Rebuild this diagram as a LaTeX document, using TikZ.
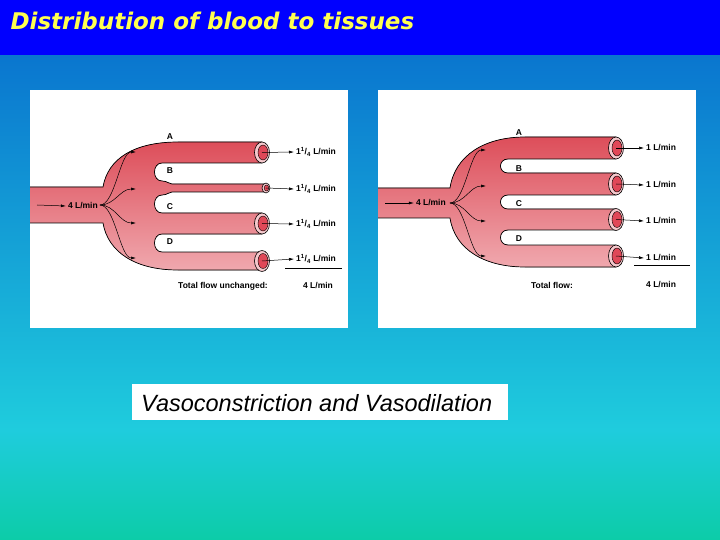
\documentclass[tikz,border=0pt]{standalone}
\usepackage{fontspec}
\setmainfont{Liberation Sans}
\newfontfamily\titlefont{DejaVu Sans}
\usetikzlibrary{arrows.meta}
\definecolor{vesTop}{HTML}{DD4E5A}
\definecolor{vesBot}{HTML}{F0A8AE}
\definecolor{ringC}{HTML}{F5C8CC}
\definecolor{innerC}{HTML}{E04858}
\tikzset{
  vessel/.style={top color=vesTop,bottom color=vesBot,draw=none},
  wall/.style={draw=black,line width=0.7pt},
  lab/.style={font=\fontsize{8.5}{9}\selectfont\bfseries,inner sep=0pt},
  flowarrow/.style={-{Latex[length=5pt,width=3pt]},line width=0.5pt},
  endring/.style={draw=black,line width=0.6pt,fill=ringC},
  endcore/.style={draw=black,line width=0.4pt,fill=innerC},
}
\def\leftbody{(30,187) -- (103,187) .. controls (108,158) and (135,142) .. (178,142) -- (262,142) -- (262,163) -- (162,163) .. controls (152,163) and (152,181) .. (162,181) .. controls (168,181) and (168,184) .. (172,184) -- (266,184) -- (266,192) -- (172,192) .. controls (168,192) and (168,195) .. (162,195) .. controls (152,195) and (152,213) .. (162,213) -- (262,213) -- (262,234) -- (162,234) .. controls (152,234) and (152,252) .. (162,252) -- (262,252) -- (262,270) -- (178,270) .. controls (135,270) and (108,252) .. (103,223) -- (30,223)}
\def\rightbody{(378,188) -- (450,188) .. controls (455,155) and (485,137) .. (525,137) -- (616,137) -- (616,159) -- (508,159) .. controls (498,159) and (498,173) .. (508,173) -- (616,173) -- (616,195) -- (508,195) .. controls (498,195) and (498,209) .. (508,209) -- (616,209) -- (616,230) -- (508,230) .. controls (498,230) and (498,245) .. (508,245) -- (616,245) -- (616,267) -- (525,267) .. controls (485,267) and (455,250) .. (450,218) -- (378,218)}
\begin{document}
\begin{tikzpicture}[x=1pt,y=-1pt]
\useasboundingbox (0,0) rectangle (720,540);
\shade[top color={rgb,255:red,10;green,118;blue,207},bottom color={rgb,255:red,31;green,204;blue,221}] (0,55) rectangle (720,430);
\shade[top color={rgb,255:red,31;green,204;blue,221},bottom color={rgb,255:red,12;green,204;blue,168}] (0,430) rectangle (720,540);
\fill[color={rgb,255:red,0;green,0;blue,255}] (0,0) rectangle (720,55);
\node[anchor=west,text={rgb,255:red,255;green,255;blue,80},font=\titlefont\bfseries\itshape\fontsize{23}{26}\selectfont] (title) at (7,21) {Distribution of blood to tissues};
% panels
\node[fill=white,draw=none,minimum width=318pt,minimum height=238pt,inner sep=0pt,anchor=north west] (pL) at (30,90) {};
\node[fill=white,draw=none,minimum width=318pt,minimum height=238pt,inner sep=0pt,anchor=north west] (pR) at (378,90) {};
% left vessel
\fill[vessel] \leftbody -- cycle;
\draw[wall] \leftbody;
\foreach \n/\y in {lA/152.5,lC/223.5,lD/261}{
  \draw[endring] (262,\y) ellipse (7.5 and 10.5);
  \draw[endcore] (263,\y) ellipse (5 and 7.5);
  \coordinate (\n) at (262,\y);
}
\draw[endring] (266,188) ellipse (4 and 5);
\draw[endcore] (266.5,188) ellipse (2.3 and 3);
\coordinate (lB) at (266,188);
\coordinate (lsrc) at (100,205);
\foreach \y in {152,189,223,258}{
  \draw[flowarrow] (lsrc) .. controls (115,205) and (120,\y) .. (136,\y);
}
\coordinate (lin0) at (37,205);
\node[lab,anchor=east] (lin) at (98,206) {4 L/min};
\draw[flowarrow] (lin0) -- ([xshift=-2pt]lin.west);
\foreach \t/\y in {A/137,B/171,C/207,D/242}{\node[lab] (lt\t) at (170,\y) {\t};}
\foreach \n/\y in {lA/152,lB/189,lC/224,lD/259}{
  \node[lab,anchor=west] (o\n) at (296,\y) {1\textsuperscript{1}/\textsubscript{4} L/min};
  \draw[flowarrow] (\n) -- ([xshift=-2pt]o\n.west);
}
\coordinate (uL1) at (285,268); \coordinate (uL2) at (342,268);
\draw[line width=0.6pt] (uL1) -- (uL2);
\node[lab] (totL) at (223,286) {Total flow unchanged:};
\node[lab] (totLv) at (318,286) {4 L/min};
% right vessel
\fill[vessel] \rightbody -- cycle;
\draw[wall] \rightbody;
\foreach \n/\y in {rA/148,rB/184,rC/219.5,rD/256}{
  \draw[endring] (616,\y) ellipse (7.5 and 11);
  \draw[endcore] (617,\y) ellipse (5 and 8);
  \coordinate (\n) at (616,\y);
}
\coordinate (rsrc) at (450,203);
\foreach \y in {150,186,221,256}{
  \draw[flowarrow] (rsrc) .. controls (465,203) and (470,\y) .. (486,\y);
}
\coordinate (rin0) at (385,203);
\node[lab,anchor=east] (rin) at (446,203) {4 L/min};
\draw[flowarrow] (rin0) -- ([xshift=-2pt]rin.west);
\foreach \t/\y in {A/133,B/169,C/204,D/239}{\node[lab] (rt\t) at (519,\y) {\t};}
\foreach \n/\y in {rA/148,rB/185,rC/221,rD/258}{
  \node[lab,anchor=west] (o\n) at (646,\y) {1 L/min};
  \draw[flowarrow] (\n) -- ([xshift=-2pt]o\n.west);
}
\coordinate (uR1) at (634,265); \coordinate (uR2) at (690,265);
\draw[line width=0.6pt] (uR1) -- (uR2);
\node[lab] (totR) at (552,285) {Total flow:};
\node[lab,anchor=west] (totRv) at (646,285) {4 L/min};
% caption
\node[fill=white,minimum width=376pt,minimum height=36pt,inner sep=0pt,anchor=west] (capbox) at (132,402) {};
\node[anchor=west,inner sep=0pt,font=\itshape\fontsize{23.5}{26}\selectfont] (cap) at (141,403) {Vasoconstriction and Vasodilation};
\end{tikzpicture}
\end{document}
